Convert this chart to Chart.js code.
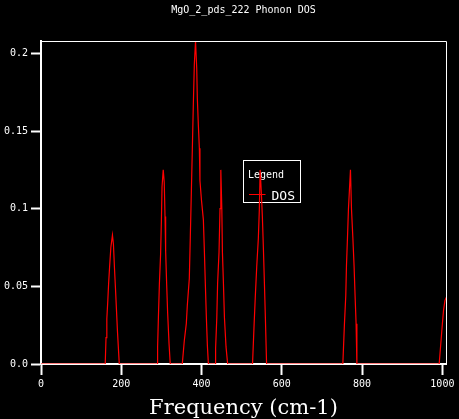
<!DOCTYPE html>
<html>
<head>
<meta charset="utf-8">
<script src="https://cdn.jsdelivr.net/npm/chart.js@4.4.1/dist/chart.umd.min.js"></script>
<style>
  html, body { margin: 0; padding: 0; background: #000; }
  canvas { display: block; }
</style>
</head>
<body>
<canvas id="graficaDos" width="459" height="419"></canvas>
<script>
// values
const titulo = 'MgO_2_pds_222 Phonon DOS';
const tituloX = 'Frequency (cm-1)';
const nombreSerie = 'DOS';

const frecuencias = [
    0, 160, 162, 164, 166.5, 168.5, 171, 174, 178, 180.5, 183, 185.5, 188, 190.5, 193.5, 195,
    289, 290.5, 292.5, 295, 298, 300, 301.5, 304.5, 307, 309, 310.5, 313, 315.5, 319, 322,
    352, 357, 362, 364.6, 369.5, 372, 374.5, 377, 379.5, 382, 385, 388, 389.5, 392, 394.5, 396,
    400, 404.5, 407, 409.5, 412, 414.5, 417,
    434, 435, 438, 440, 443.5, 446, 448, 450.5, 452, 454.5, 457, 461, 465,
    527, 531, 534, 537.5, 541.5, 544, 546, 549, 551.5, 554, 556.5, 559, 562,
    752, 756, 759.3, 761, 763.5, 766, 771, 773.5, 777, 780, 782.5, 785, 787,
    992, 996, 1000, 1003, 1006.5, 1010
];
const valoresDos = [
    0, 0, 0.017, 0.029, 0.041, 0.052, 0.063, 0.075, 0.083, 0.077, 0.062, 0.049, 0.035, 0.021, 0.007, 0,
    0, 0.011, 0.030, 0.052, 0.071, 0.093, 0.114, 0.125, 0.117, 0.095, 0.073, 0.052, 0.033, 0.013, 0,
    0, 0.015, 0.026, 0.038, 0.055, 0.082, 0.110, 0.138, 0.167, 0.193, 0.208, 0.190, 0.171, 0.154, 0.139, 0.118,
    0.105, 0.093, 0.073, 0.051, 0.030, 0.012, 0,
    0, 0.010, 0.030, 0.052, 0.072, 0.100, 0.125, 0.100, 0.072, 0.052, 0.030, 0.011, 0,
    0, 0.026, 0.044, 0.063, 0.081, 0.100, 0.125, 0.110, 0.095, 0.075, 0.053, 0.030, 0,
    0, 0.026, 0.044, 0.063, 0.081, 0.100, 0.125, 0.100, 0.081, 0.063, 0.044, 0.026, 0,
    0, 0.013, 0.026, 0.035, 0.041, 0.043
];

const ticksX = [0, 200, 400, 600, 800, 1000];
const ticksY = [0, 0.05, 0.1, 0.15, 0.2];
const etiquetasY = ['0.0', '0.05', '0.1', '0.15', '0.2'];

document.addEventListener('DOMContentLoaded', () => {

    const ctx = document.getElementById('graficaDos').getContext('2d');
    const puntos = frecuencias.map((f, i) => ({ x: f, y: valoresDos[i] }));

    // fondo negro, marco fino arriba y a la derecha
    const marco = {
        id: 'marco',
        beforeDraw(chart) {
            const c = chart.ctx;
            c.save();
            c.fillStyle = '#000';
            c.fillRect(0, 0, chart.width, chart.height);
            c.restore();
        },
        afterDraw(chart) {
            const a = chart.chartArea;
            const c = chart.ctx;
            c.save();
            c.strokeStyle = '#fff';
            c.lineWidth = 1;
            c.beginPath();
            c.moveTo(a.left, a.top + 0.5);
            c.lineTo(a.right + 0.5, a.top + 0.5);
            c.lineTo(a.right + 0.5, a.bottom);
            c.stroke();
            c.restore();
        }
    };

    // leyenda en caja, debajo de la curva
    const leyenda = {
        id: 'leyendaCaja',
        beforeDatasetsDraw(chart) {
            const a = chart.chartArea;
            const c = chart.ctx;
            const x0 = a.left + 202.5;
            const y0 = a.top + 119.5;
            c.save();
            c.fillStyle = '#000';
            c.fillRect(x0, y0, 57, 42);
            c.strokeStyle = '#fff';
            c.lineWidth = 1;
            c.strokeRect(x0, y0, 57, 42);
            c.fillStyle = '#fff';
            c.textBaseline = 'alphabetic';
            c.font = '10px "DejaVu Sans Mono"';
            c.fillText('Legend', x0 + 4.5, y0 + 17);
            c.font = '13px "DejaVu Sans Mono"';
            c.fillText(nombreSerie, x0 + 28, y0 + 39);
            c.strokeStyle = '#ff0000';
            c.beginPath();
            c.moveTo(x0 + 5.5, y0 + 34);
            c.lineTo(x0 + 22, y0 + 34);
            c.stroke();
            c.restore();
        }
    };

    new Chart(ctx, {
        type: 'scatter',
        data: {
            datasets: [{
                label: nombreSerie,
                data: puntos,
                showLine: true,
                borderColor: '#ff0000',
                borderWidth: 1.2,
                pointRadius: 0,
                tension: 0
            }]
        },
        options: {
            responsive: false,
            animation: false,
            devicePixelRatio: 1,
            layout: { padding: { right: 13 } },
            plugins: {
                legend: { display: false },
                tooltip: { enabled: false },
                title: {
                    display: true,
                    text: titulo,
                    color: '#fff',
                    fullSize: false,
                    font: { family: 'DejaVu Sans Mono', size: 10, weight: 'normal' },
                    padding: { top: 4, bottom: 25 }
                }
            },
            scales: {
                x: {
                    type: 'linear',
                    min: 0,
                    max: 1009,
                    z: 1,
                    afterFit: (s) => { s.height = 55; },
                    afterBuildTicks: (s) => { s.ticks = ticksX.map(v => ({ value: v })); },
                    grid: { drawOnChartArea: false, tickLength: 11, tickWidth: 2, tickColor: '#fff' },
                    border: { color: '#fff', width: 2 },
                    ticks: {
                        color: '#fff',
                        padding: 3,
                        maxRotation: 0,
                        font: { family: 'DejaVu Sans Mono', size: 10 },
                        callback: (v) => String(v)
                    },
                    title: {
                        display: true,
                        text: tituloX,
                        color: '#fff',
                        font: { family: 'DejaVu Serif', size: 21, lineHeight: 1.0 },
                        padding: { top: 0, bottom: 0 }
                    }
                },
                y: {
                    min: 0,
                    max: 0.208,
                    z: 1,
                    afterFit: (s) => { s.width = 41; },
                    afterBuildTicks: (s) => { s.ticks = ticksY.map(v => ({ value: v })); },
                    grid: { drawOnChartArea: false, tickLength: 10, tickWidth: 2, tickColor: '#fff' },
                    border: { color: '#fff', width: 2 },
                    ticks: {
                        color: '#fff',
                        padding: 3,
                        font: { family: 'DejaVu Sans Mono', size: 10 },
                        callback: (v) => {
                            const i = ticksY.indexOf(v);
                            return i >= 0 ? etiquetasY[i] : '';
                        }
                    }
                }
            }
        },
        plugins: [marco, leyenda]
    });
});
</script>
</body>
</html>
